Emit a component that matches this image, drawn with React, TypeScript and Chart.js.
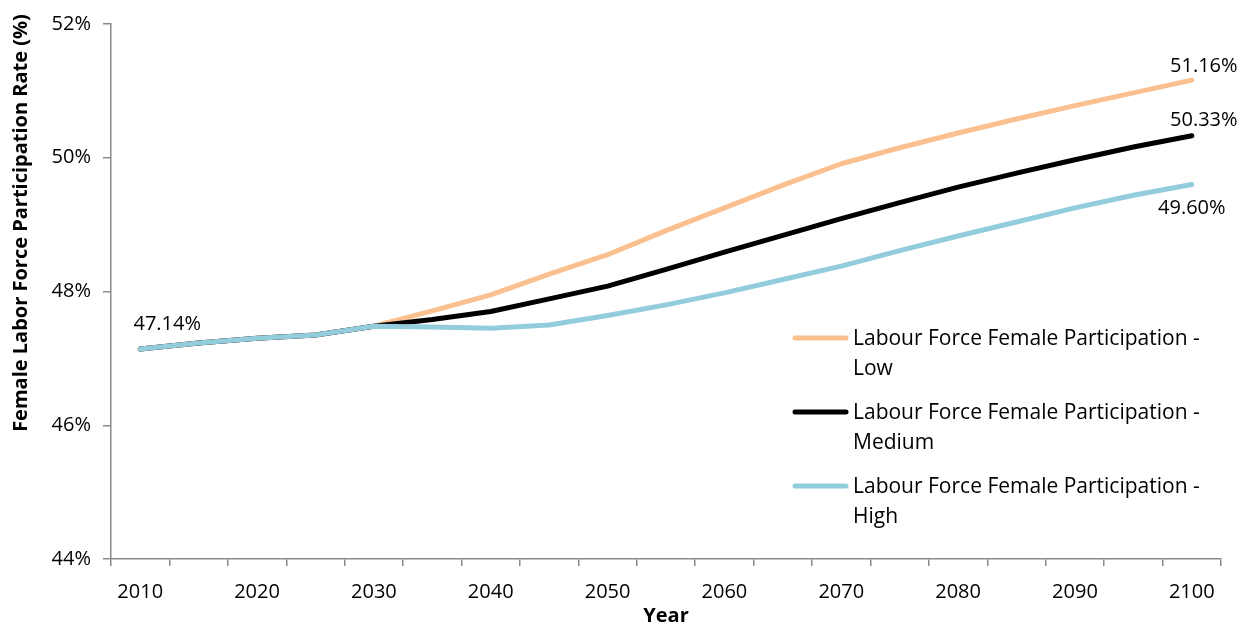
import React, { useEffect, useRef } from "react";
import { Chart, registerables } from "chart.js";

Chart.register(...registerables);

// Projection years (5-year steps)
const years = [
  "2010", "2015", "2020", "2025", "2030", "2035", "2040", "2045", "2050", "2055",
  "2060", "2065", "2070", "2075", "2080", "2085", "2090", "2095", "2100",
];

// Female labour force participation rate (%) by scenario
const lowScenario = [
  47.14, 47.23, 47.3, 47.35, 47.48, 47.71, 47.95, 48.26, 48.55, 48.91,
  49.25, 49.59, 49.91, 50.15, 50.37, 50.58, 50.78, 50.97, 51.16,
];
const mediumScenario = [
  47.14, 47.23, 47.3, 47.35, 47.48, 47.58, 47.7, 47.89, 48.08, 48.33,
  48.59, 48.84, 49.09, 49.33, 49.56, 49.77, 49.97, 50.16, 50.33,
];
const highScenario = [
  47.14, 47.23, 47.3, 47.35, 47.48, 47.47, 47.45, 47.5, 47.64, 47.8,
  47.98, 48.18, 48.38, 48.61, 48.83, 49.04, 49.25, 49.44, 49.6,
];

const seriesNames = [
  "Labour Force Female Participation - Low",
  "Labour Force Female Participation - Medium",
  "Labour Force Female Participation - High",
];
const seriesColors = ["#FAC090", "#000000", "#93CDDD"];

const yAxisTitle = "Female Labor Force Participation Rate (%)";
const xAxisTitle = "Year";
const yMin = 44;
const yMax = 52;
const yStep = 2;

const FONT = "'Open Sans', sans-serif";
const AXIS_GREY = "#8a8a8a";

// Value callouts on the first point and on each series' last point
const valueLabelPlugin = {
  id: "valueLabels",
  afterDatasetsDraw(chart: any) {
    const specs = [
      { dataset: 2, index: 0, dx: 27, dy: -19 },
      { dataset: 0, index: years.length - 1, dx: 12, dy: -8 },
      { dataset: 1, index: years.length - 1, dx: 12, dy: -10 },
      { dataset: 2, index: years.length - 1, dx: 0, dy: 29 },
    ];
    const ctx = chart.ctx;
    ctx.save();
    ctx.font = `20px ${FONT}`;
    ctx.fillStyle = "#000";
    ctx.textAlign = "center";
    ctx.textBaseline = "alphabetic";
    for (const s of specs) {
      const pt = chart.getDatasetMeta(s.dataset).data[s.index];
      const v = chart.data.datasets[s.dataset].data[s.index] as number;
      ctx.fillText(v.toFixed(2) + "%", pt.x + s.dx, pt.y + s.dy);
    }
    ctx.restore();
  },
};

// Rotated y-axis title, sitting towards the top of the axis
const yTitlePlugin = {
  id: "yTitle",
  afterDraw(chart: any) {
    const { ctx, chartArea } = chart;
    ctx.save();
    ctx.translate(21, chartArea.top + 199);
    ctx.rotate(-Math.PI / 2);
    ctx.font = `bold 20px ${FONT}`;
    ctx.fillStyle = "#000";
    ctx.textAlign = "center";
    ctx.textBaseline = "middle";
    ctx.fillText(yAxisTitle, 0, 0);
    ctx.restore();
  },
};

// Legend placed inside the plot area, with names wrapped after the dash
const insideLegendPlugin = {
  id: "insideLegend",
  afterDraw(chart: any) {
    const { ctx, chartArea } = chart;
    const x0 = chartArea.left + 682;
    const y0 = chartArea.top + 314;
    const entryGap = 74;
    const rowGap = 30;
    ctx.save();
    ctx.font = `21px ${FONT}`;
    ctx.textAlign = "left";
    ctx.textBaseline = "alphabetic";
    chart.data.datasets.forEach((ds: any, i: number) => {
      const y = y0 + i * entryGap;
      ctx.strokeStyle = ds.borderColor;
      ctx.lineWidth = 5;
      ctx.lineCap = "round";
      ctx.beginPath();
      ctx.moveTo(x0 + 2, y);
      ctx.lineTo(x0 + 53, y);
      ctx.stroke();
      const cut = ds.label.lastIndexOf(" - ");
      const lines = [ds.label.slice(0, cut + 2), ds.label.slice(cut + 3)];
      ctx.fillStyle = "#000";
      lines.forEach((t: string, j: number) => {
        ctx.fillText(t, x0 + 60, y + 7 + j * rowGap);
      });
    });
    ctx.restore();
  },
};

export default function App() {
  const canvasRef = useRef<HTMLCanvasElement | null>(null);

  useEffect(() => {
    if (!canvasRef.current) return;
    const series = [lowScenario, mediumScenario, highScenario];
    const chart = new Chart(canvasRef.current, {
      type: "line",
      data: {
        labels: years,
        datasets: series.map((values, i) => ({
          label: seriesNames[i],
          data: values,
          borderColor: seriesColors[i],
          backgroundColor: seriesColors[i],
          borderWidth: 5,
          borderCapStyle: "round" as const,
          borderJoinStyle: "round" as const,
          pointRadius: 0,
          pointHoverRadius: 0,
          tension: 0,
          fill: false,
          order: 2 - i,
        })),
      },
      options: {
        animation: false,
        responsive: true,
        maintainAspectRatio: false,
        layout: { padding: { top: 17, right: 23, left: 0, bottom: 0 } },
        plugins: {
          legend: { display: false },
          tooltip: { enabled: false },
          title: { display: false },
        },
        scales: {
          x: {
            type: "category",
            offset: true,
            grid: {
              offset: true,
              drawOnChartArea: false,
              drawTicks: true,
              tickLength: 7,
              color: AXIS_GREY,
              lineWidth: 1.5,
            },
            border: { color: AXIS_GREY, width: 1.5 },
            ticks: {
              autoSkip: false,
              maxRotation: 0,
              minRotation: 0,
              padding: 14,
              color: "#000",
              font: { family: FONT, size: 20 },
              callback: (_v: any, index: number) => (index % 2 === 0 ? years[index] : ""),
            },
            title: {
              display: true,
              text: xAxisTitle,
              color: "#000",
              font: { family: FONT, size: 20, weight: "bold", lineHeight: 0.9 },
              padding: { top: 0, bottom: 0 },
            },
            afterFit: (scale: any) => {
              scale.height = 66;
            },
          },
          y: {
            min: yMin,
            max: yMax,
            grid: {
              drawOnChartArea: false,
              drawTicks: true,
              tickLength: 8,
              color: AXIS_GREY,
              lineWidth: 1.5,
            },
            border: { color: AXIS_GREY, width: 1.5 },
            ticks: {
              stepSize: yStep,
              padding: 12,
              color: "#000",
              font: { family: FONT, size: 20 },
              callback: (v: any) => `${v}%`,
            },
            title: { display: false },
            afterFit: (scale: any) => {
              scale.width = 111;
            },
          },
        },
      },
      plugins: [valueLabelPlugin, insideLegendPlugin, yTitlePlugin],
    });
    return () => chart.destroy();
  }, []);

  return (
    <div style={{ position: "fixed", left: 0, top: 0, width: "1244px", height: "625px", background: "#fff" }}>
      <canvas ref={canvasRef} />
    </div>
  );
}
